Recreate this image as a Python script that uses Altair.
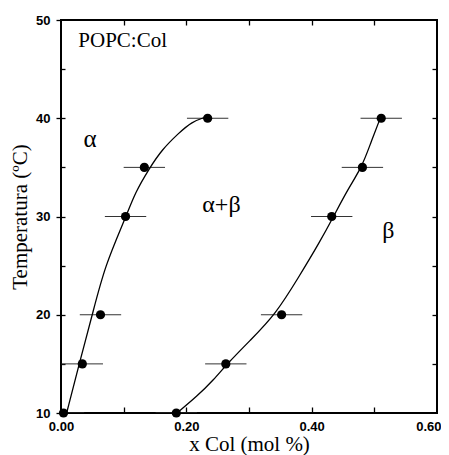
import altair as alt
import pandas as pd

# measured points (x Col, temperature)
temps = [10, 15, 20, 30, 35, 40]
alpha_x = [0.004, 0.034, 0.063, 0.103, 0.133, 0.234]
beta_x = [0.184, 0.263, 0.352, 0.432, 0.481, 0.511]
alpha_err = [0.033, 0.033, 0.033, 0.033, 0.033, 0.033]
beta_err = [0.033, 0.033, 0.033, 0.033, 0.033, 0.033]

# boundary curves
alpha_curve_x = [0.009, 0.029, 0.050, 0.070, 0.104, 0.118, 0.141, 0.161, 0.188, 0.209, 0.230]
alpha_curve_t = [10.0, 15.0, 20.0, 25.0, 30.0, 32.4, 34.9, 36.8, 38.5, 39.65, 40.1]
beta_curve_x = [0.185, 0.217, 0.244, 0.265, 0.302, 0.342, 0.380, 0.412, 0.435, 0.457, 0.480, 0.494, 0.510]
beta_curve_t = [10.0, 11.7, 13.4, 15.0, 17.4, 20.0, 23.9, 27.3, 30.0, 32.7, 35.0, 37.45, 40.1]

# annotations
label_text = ["POPC:Col", "α", "α+β", "β"]
label_x = [0.0984, 0.0464, 0.256, 0.5224]
label_t = [47.25, 37.07, 30.46, 27.8]
label_size = [21, 25, 24, 24]

x_label_values = [0.0, 0.2, 0.4, 0.6]
x_tick_values = [0.1, 0.2, 0.3, 0.4, 0.5]
y_label_values = [10, 20, 30, 40, 50]
y_tick_values = [15, 20, 25, 30, 35, 40, 45]

pts = pd.DataFrame({
    "x": alpha_x + beta_x,
    "t": temps + temps,
    "err": alpha_err + beta_err,
})
pts["lo"] = pts["x"] - pts["err"]
pts["hi"] = pts["x"] + pts["err"]

curve_a = pd.DataFrame({"x": alpha_curve_x, "t": alpha_curve_t})
curve_b = pd.DataFrame({"x": beta_curve_x, "t": beta_curve_t})
labels = pd.DataFrame({"text": label_text, "x": label_x, "t": label_t, "s": label_size})

xs = alt.Scale(domain=[0, 0.6], nice=False, zero=False)
ys = alt.Scale(domain=[10, 50], nice=False, zero=False)

def tick_axis(orient, values, offset, size):
    return alt.Axis(orient=orient, values=values, offset=offset, tickSize=size,
                    labels=False, domain=False, grid=False, title=None,
                    tickColor="black", tickWidth=1.3)

errbars = alt.Chart(pts).mark_rule(color="#333333", strokeWidth=1, clip=True).encode(
    x=alt.X("lo:Q", scale=xs, axis=tick_axis("bottom", x_tick_values, -6, 6)),
    x2="hi:Q",
    y=alt.Y("t:Q", scale=ys, axis=tick_axis("left", y_tick_values, -4, 4)),
)

line_a = alt.Chart(curve_a).mark_line(color="black", strokeWidth=1.3, interpolate="basis").encode(
    x=alt.X("x:Q", scale=xs, axis=tick_axis("top", x_tick_values, -5, 5)),
    y=alt.Y("t:Q", scale=ys, axis=None),
)

line_b = alt.Chart(curve_b).mark_line(color="black", strokeWidth=1.3, interpolate="basis").encode(
    x=alt.X("x:Q", scale=xs, axis=None),
    y=alt.Y("t:Q", scale=ys, axis=tick_axis("right", y_tick_values, -5, 5)),
)

points = alt.Chart(pts).mark_circle(size=85, color="black", opacity=1).encode(
    x=alt.X("x:Q", scale=xs, axis=alt.Axis(
        orient="bottom", values=x_label_values, format=".2f", ticks=False, tickSize=0,
        labelPadding=7, domain=False, grid=False, labelFlush=False,
        labelAlign={"condition": {"test": "datum.value >= 0.6", "value": "right"}, "value": "center"},
        labelOffset={"condition": {"test": "datum.value >= 0.6", "value": 4}, "value": 0},
        title="x Col (mol %)", titleFont="Liberation Serif", titleFontSize=21,
        titleFontWeight="normal", titlePadding=0, titleColor="black",
        labelFont="Liberation Sans", labelFontSize=13, labelFontWeight="bold",
        labelColor="black")),
    y=alt.Y("t:Q", scale=ys, axis=alt.Axis(
        orient="left", values=y_label_values, tickSize=5, tickColor="black", tickWidth=1.3,
        labelPadding=6, domain=False, grid=False,
        title="Temperatura (ºC)", titleFont="Liberation Serif", titleFontSize=21,
        titleFontWeight="normal", titlePadding=5, titleColor="black",
        labelFont="Liberation Sans", labelFontSize=13, labelFontWeight="bold",
        labelColor="black")),
)

texts = alt.Chart(labels).mark_text(font="Liberation Serif", color="black",
                                     align="center", baseline="alphabetic").encode(
    x=alt.X("x:Q", scale=xs, axis=None),
    y=alt.Y("t:Q", scale=ys, axis=None),
    text="text:N",
    size=alt.Size("s:Q", scale=None, legend=None),
)

chart = alt.layer(errbars, line_a, line_b, points, texts).resolve_axis(
    x="independent", y="independent"
).properties(
    width=376, height=393, autosize="none",
    padding={"left": 53, "top": 12, "right": 4, "bottom": 42},
    background="white",
).configure_view(stroke="black", strokeWidth=2)

chart.save("out.html", embed_options={"renderer": "svg", "actions": False})
